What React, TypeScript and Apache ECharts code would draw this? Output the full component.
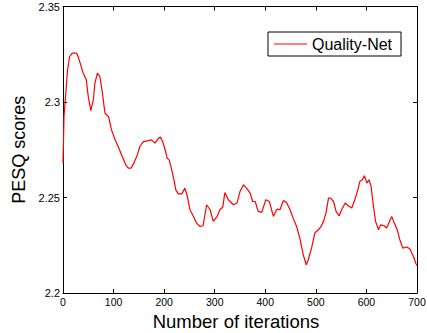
import { useEffect, useRef } from "react";
import * as echarts from "echarts";

const iterations = [
  0, 2, 6, 9, 13, 17, 22, 27, 30, 35, 40, 46, 50, 55, 60, 63, 68, 73, 78, 83,
  90, 96, 103, 109, 116, 124, 129, 135, 140, 147, 152, 159, 169, 175, 182, 189, 193, 197, 202, 206,
  210, 215, 220, 223, 228, 235, 241, 246, 251, 258, 264, 271, 277, 284, 291, 297, 305, 310, 316, 320,
  327, 337, 344, 350, 357, 363, 370, 375, 380, 386, 393, 401, 408, 416, 423, 429, 436, 442, 449, 455,
  462, 469, 475, 481, 485, 492, 498, 505, 510, 515, 520, 525, 529, 535, 540, 546, 551, 558, 564, 571,
  577, 583, 587, 592, 596, 601, 605, 609, 614, 618, 624, 628, 635, 640, 647, 650, 655, 661, 666, 672,
  680, 686, 693, 698, 700,
];

const pesq = [
  2.268, 2.2924, 2.3063, 2.3168, 2.3237, 2.3252, 2.3258, 2.3255, 2.3237, 2.3194, 2.3151, 2.3116, 2.3028, 2.2955, 2.3011, 2.3098, 2.3151, 2.3133, 2.3046, 2.2941,
  2.2924, 2.2854, 2.2802, 2.2767, 2.2723, 2.2671, 2.2654, 2.2654, 2.268, 2.2723, 2.2767, 2.2793, 2.2798, 2.2802, 2.2785, 2.2811, 2.2816, 2.2793, 2.275, 2.2706,
  2.2697, 2.2645, 2.2584, 2.254, 2.2519, 2.2519, 2.2549, 2.2505, 2.2436, 2.2401, 2.2366, 2.2348, 2.2352, 2.2462, 2.2436, 2.2375, 2.2401, 2.2436, 2.245, 2.2526,
  2.2488, 2.2462, 2.2471, 2.2531, 2.2566, 2.2549, 2.2523, 2.2479, 2.2479, 2.2427, 2.2422, 2.2488, 2.2479, 2.2401, 2.2439, 2.2436, 2.2484, 2.2474, 2.2436, 2.2392,
  2.2348, 2.2279, 2.22, 2.2148, 2.2174, 2.2241, 2.2314, 2.2331, 2.2347, 2.2375, 2.2418, 2.2497, 2.2497, 2.2479, 2.2427, 2.2404, 2.2436, 2.2471, 2.2457, 2.2445,
  2.2488, 2.254, 2.2584, 2.2593, 2.2614, 2.2575, 2.2593, 2.2561, 2.2453, 2.2375, 2.2331, 2.2357, 2.2352, 2.234, 2.2383, 2.2401, 2.2366, 2.2331, 2.2279, 2.2235,
  2.2241, 2.223, 2.2191, 2.2153, 2.2145,
];

const seriesName = "Quality-Net";
const xName = "Number of iterations";
const yName = "PESQ scores";
const xMin = 0;
const xMax = 700;
const xStep = 100;
const yMin = 2.2;
const yMax = 2.35;
const yStep = 0.05;

const FONT = "'Liberation Sans', Arial, Helvetica, sans-serif";

export default function App() {
  const ref = useRef<HTMLDivElement>(null);
  useEffect(() => {
    const chart = echarts.init(ref.current!, null, { renderer: "svg" });
    const axisLine = { show: true, onZero: false, lineStyle: { color: "#000", width: 1 } };
    const tick = { show: true, inside: true, length: 4, lineStyle: { color: "#000", width: 1 } };
    chart.setOption({
      animation: false,
      backgroundColor: "#fff",
      grid: { left: 63, right: 10, top: 6.5, bottom: 40, containLabel: false, outerBoundsMode: "none" },
      legend: {
        data: [{ name: seriesName, icon: "rect" }],
        left: 268,
        top: 32,
        borderColor: "#000",
        borderWidth: 1,
        borderRadius: 0,
        backgroundColor: "#fff",
        padding: [4, 9, 4, 6],
        itemWidth: 33,
        itemHeight: 1.2,
        itemStyle: { color: "#ff0000", borderWidth: 0 },
        textStyle: { fontSize: 16, color: "#000", fontFamily: FONT },
      },
      xAxis: [
        {
          type: "value",
          min: xMin,
          max: xMax,
          interval: xStep,
          position: "bottom",
          axisLine,
          axisTick: tick,
          splitLine: { show: false },
          axisLabel: { color: "#000", fontSize: 10.5, fontFamily: FONT, margin: 3 },
          name: xName,
          nameLocation: "middle",
          nameGap: 19,
          nameTextStyle: { fontSize: 18.5, color: "#000", fontFamily: FONT, padding: [0, 8, 0, 0] },
        },
        {
          type: "value",
          min: xMin,
          max: xMax,
          interval: xStep,
          position: "top",
          axisLine,
          axisTick: tick,
          splitLine: { show: false },
          axisLabel: { show: false },
        },
      ],
      yAxis: [
        {
          type: "value",
          min: yMin,
          max: yMax,
          interval: yStep,
          position: "left",
          axisLine,
          axisTick: tick,
          splitLine: { show: false },
          axisLabel: { color: "#000", fontSize: 11, fontFamily: FONT, margin: 3 },
          name: yName,
          nameLocation: "middle",
          nameGap: 20,
          nameTextStyle: { fontSize: 18, color: "#000", fontFamily: FONT },
        },
        {
          type: "value",
          min: yMin,
          max: yMax,
          interval: yStep,
          position: "right",
          axisLine,
          axisTick: tick,
          splitLine: { show: false },
          axisLabel: { show: false },
        },
      ],
      series: [
        {
          type: "line",
          name: seriesName,
          xAxisIndex: 0,
          yAxisIndex: 0,
          data: iterations.map((x, i) => [x, pesq[i]]),
          symbol: "none",
          showSymbol: false,
          lineStyle: { color: "#ff0000", width: 1.2 },
          itemStyle: { color: "#ff0000" },
        },
      ],
    });
    return () => chart.dispose();
  }, []);
  return (
    <div
      ref={ref}
      style={{ position: "fixed", left: 0, top: 0, width: 427, height: 333, background: "#fff" }}
    />
  );
}
